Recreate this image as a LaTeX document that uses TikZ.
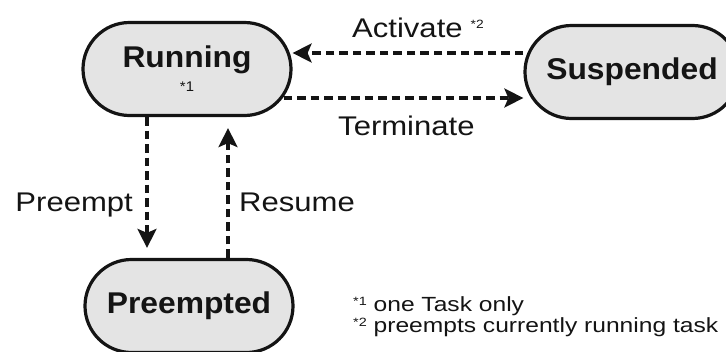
\documentclass[tikz,border=0pt]{standalone}
\usepackage{fontspec}
\setmainfont{Liberation Sans}
\newfontfamily\statefont[FakeStretch=1.06]{Liberation Sans}
\newfontfamily\labelfont[FakeStretch=1.15]{Liberation Sans}
\newfontfamily\notefont[FakeStretch=1.2]{Liberation Sans}
\usetikzlibrary{shapes.misc,arrows.meta}

\definecolor{stateFill}{HTML}{E4E4E4}
\definecolor{ink}{HTML}{141414}

\tikzset{
  state/.style={rounded rectangle, draw=ink, line width=3.2pt, fill=stateFill,
    minimum width=208pt, minimum height=93pt, inner sep=0pt, align=center,
    text=ink, font=\statefont\fontsize{30}{33}\selectfont\bfseries},
  trans/.style={draw=ink, line width=3.3pt, dash pattern=on 8.5pt off 5pt,
    -{Stealth[length=19pt,width=19pt,inset=4pt]}},
  lbl/.style={inner sep=0pt, text=ink, font=\labelfont\fontsize{27}{30}\selectfont},
  note/.style={inner sep=0pt, text=ink, font=\notefont\fontsize{20.5}{22}\selectfont},
}
\newcommand{\tinymark}[1]{{\fontsize{12}{12}\selectfont #1}}

\begin{document}
\begin{tikzpicture}[x=1pt,y=-1pt]
\useasboundingbox (0,0) rectangle (726,351);

% states
\node[state] (run) at (187,69) {Running\\[-9pt]{\fontsize{14}{14}\selectfont\mdseries *1}};
\node[state, minimum width=214pt] (sus) at (632,72) {Suspended};
\node[state, minimum width=208pt] (pre) at (189,306) {Preempted};

% transitions between Running and Suspended
\draw[trans] ([yshift=19pt]sus.west) -- ([yshift=19pt]sus.west -| run.east);
\draw[trans] ([yshift=-29pt]run.east) ++(-9pt,0) coordinate (tstart)
  (tstart) -- (tstart -| sus.west);

% transitions between Running and Preempted
\draw[trans, shorten >=10pt] ([xshift=-40pt]run.south) -- ([xshift=-40pt]run.south |- pre.north);
\draw[trans, shorten >=11pt] ([xshift=39pt]pre.north) -- ([xshift=39pt]pre.north |- run.south);

% transition labels
\node[lbl, anchor=base west] (actlbl) at (352,37) {Activate\hspace{8pt}\raisebox{9pt}{\tinymark{*2}}};
\node[lbl, anchor=base west] (termlbl) at (338,135) {Terminate};
\node[lbl, anchor=base east] (prelbl) at (133,211) {Preempt};
\node[lbl, anchor=base west] (reslbl) at (239,211) {Resume};

% footnotes
\node[note, anchor=base west] (fn1) at (353,311) {\raisebox{6pt}{\tinymark{*1}} one Task only};
\node[note, anchor=base west] (fn2) at (353,332) {\raisebox{6pt}{\tinymark{*2}} preempts currently running task};
\end{tikzpicture}
\end{document}
